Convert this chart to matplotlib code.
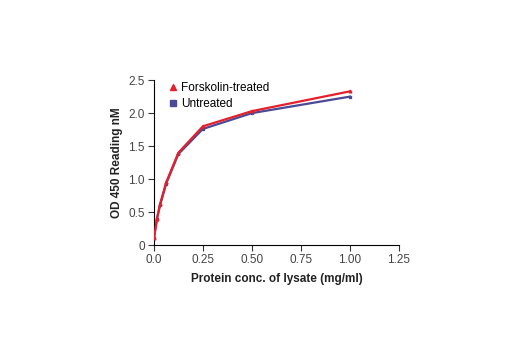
import matplotlib
matplotlib.use("Agg")
import matplotlib.pyplot as plt

plt.rcParams['font.family'] = ['Liberation Sans', 'DejaVu Sans']

conc = [0.0, 0.0156, 0.03125, 0.0625, 0.125, 0.25, 0.5, 1.0]
forskolin = [0.10, 0.40, 0.62, 0.95, 1.40, 1.80, 2.03, 2.33]
untreated = [0.10, 0.40, 0.60, 0.93, 1.38, 1.76, 2.00, 2.25]
xticks = [0.0, 0.25, 0.50, 0.75, 1.00, 1.25]
xticklabels = ["0.0", "0.25", "0.50", "0.75", "1.00", "1.25"]
yticks = [0, 0.5, 1.0, 1.5, 2.0, 2.5]
yticklabels = ["0", "0.5", "1.0", "1.5", "2.0", "2.5"]

red = "#e3202b"
navy = "#4a4a96"

fig = plt.figure(figsize=(5.2, 3.5), dpi=100)
ax = fig.add_axes([0.296, 0.30, 0.471, 0.471])

ax.plot(conc, untreated, color=navy, lw=1.6, marker="s", ms=2, label="Untreated", zorder=2)
ax.plot(conc, forskolin, color=red, lw=1.6, marker="^", ms=2, label="Forskolin-treated", zorder=3)

ax.set_xlim(0, 1.25)
ax.set_ylim(0, 2.5)
ax.set_xticks(xticks)
ax.set_xticklabels(xticklabels)
ax.set_yticks(yticks)
ax.set_yticklabels(yticklabels)
for s in ["top", "right"]:
    ax.spines[s].set_visible(False)
for s in ["left", "bottom"]:
    ax.spines[s].set_linewidth(0.8)
ax.tick_params(direction="out", length=4, width=0.8, labelsize=8.5, pad=2.5,
               colors="#333333", labelcolor="#444444")

ax.set_xlabel("Protein conc. of lysate (mg/ml)", fontsize=8.5, fontweight="bold", color="#222222", labelpad=5)
ax.set_ylabel("OD 450 Reading nM", fontsize=8.5, fontweight="bold", color="#222222", labelpad=4)

h, l = ax.get_legend_handles_labels()
leg = ax.legend(h[::-1], l[::-1], loc="upper left", bbox_to_anchor=(0.045, 1.015), frameon=False,
                fontsize=8.5, handlelength=0.6, handletextpad=0.4, labelspacing=0.3,
                borderaxespad=0)
for lh in leg.legend_handles:
    lh.set_linestyle("none")
    lh.set_markersize(5)

fig.savefig("out.png", dpi=100)
